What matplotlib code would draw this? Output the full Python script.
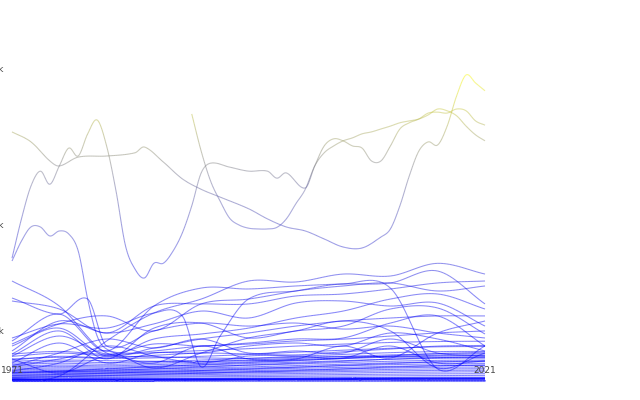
import matplotlib
matplotlib.use("Agg")
import matplotlib.pyplot as plt
from matplotlib.collections import LineCollection
from matplotlib.colors import LinearSegmentedColormap, Normalize
from matplotlib.transforms import blended_transform_factory
import numpy as np

# values in thousands
grid_years = [1971, 1976, 1981, 1986, 1991, 1996, 2001, 2006, 2011, 2016, 2021]

# top olive line
years_a = [1971, 1973, 1975, 1976, 1978, 1981, 1984, 1985, 1987, 1989, 1991, 1993,
           1996, 1998, 2000, 2002, 2004, 2006, 2008, 2010, 2011, 2012, 2013, 2014,
           2015, 2016, 2017, 2018, 2019, 2020, 2021]
vals_a = [255, 235, 199, 190, 206, 208, 214, 225, 197, 168, 151, 139,
          122, 108, 97.5, 92.5, 82.9, 73.8, 72.7, 85.2, 95, 126, 173, 217,
          235, 229, 267, 334, 385, 365, 346]

# line with the 1980 peak
years_b = list(range(1971, 1993)) + [1994, 1996, 1998, 1999, 2000, 2002, 2003, 2004,
                                      2005, 2006, 2007, 2008, 2009, 2010, 2011, 2012,
                                      2013, 2014, 2015, 2016, 2017, 2018, 2019, 2020, 2021]
vals_b = [62, 108, 156, 181, 159, 190, 223, 208, 251, 280, 227, 148, 75, 51.5, 43.6,
          57, 57, 69, 90, 126, 178, 195, 188, 181, 181, 169, 178, 153, 190, 227,
          241, 237, 227, 223, 199, 199, 227, 261, 274, 282, 295, 297, 295, 304, 300,
          278, 269]

# series starting in 1990
years_c = list(range(1990, 2022))
vals_c = [293, 217, 164, 133, 109, 100, 96, 95, 95, 97, 108, 129, 151, 190, 214, 227,
          237, 243, 251, 255, 261, 267, 274, 278, 282, 291, 304, 300, 289, 267, 249, 237]

# blue line with early peak
years_d = [1971, 1972, 1973, 1974, 1975, 1976, 1977, 1978, 1979, 1980, 1981, 1983,
           1986, 1991, 1996, 2001, 2006, 2011, 2016, 2021]
vals_d = [59.2, 80.5, 97.5, 97.5, 86.4, 92.5, 88.8, 69.4, 27.6, 8.3, 4.2, 3.2,
          3.7, 5.0, 5.6, 6.6, 7.2, 8.3, 9.5, 10.3]

# blue line with the 1991 dip
years_e = [1971, 1976, 1981, 1986, 1989, 1991, 1993, 1996, 2001, 2006, 2011, 2016, 2021]
vals_e = [7.6, 13.4, 11.5, 19.0, 17.4, 0.81, 8.32, 27.6, 33.3, 37.1, 39.5, 33.3, 37.1]

years_f = [1971, 1976, 1979, 1981, 1986, 1991, 1996, 2001, 2006, 2011, 2016, 2021]
vals_f = [28.3, 18.4, 27.6, 5.03, 10.3, 13.8, 12.4, 13.8, 11.1, 12.4, 9.47, 7.6]

# mid-range blue lines on grid_years
mid_1 = [41.1, 23.1, 3.22, 4.47, 7.25, 9.47, 12.4, 14.8, 16.3, 17.4, 17.4]
mid_2 = [0.016, 0.10, 6.57, 19.0, 27.6, 41.1, 40.3, 47.0, 45.3, 56.9, 47.0]
mid_3 = [6.57, 18.4, 3.70, 23.1, 35.5, 34.8, 37.1, 38.7, 39.5, 49.7, 24.4]
mid_4 = [5.03, 11.5, 2.57, 7.25, 9.08, 11.5, 16.3, 20.1, 27.6, 31.1, 21.3]
mid_5 = [3.70, 14.8, 9.47, 13.4, 20.1, 16.3, 25.0, 26.3, 23.1, 25.0, 12.4]
mid_6 = [3.00, 10.3, 1.99, 11.5, 13.8, 7.60, 10.3, 12.4, 21.3, 21.9, 9.08]
mid_7 = [2.57, 8.32, 3.00, 5.63, 5.03, 5.93, 7.25, 7.60, 13.8, 17.4, 5.03]
mid_8 = [1.33, 5.93, 1.33, 3.22, 3.22, 5.03, 5.93, 5.03, 9.47, 7.25, 3.70]
mid_9 = [0.92, 3.22, 7.25, 4.47, 7.25, 3.22, 3.70, 3.22, 7.25, 3.22, 2.57]
mid_10 = [0.41, 1.33, 5.03, 2.57, 1.33, 2.57, 2.57, 2.17, 5.03, 1.33, 1.64]
mid_11 = [5.63, 13.4, 17.4, 10.3, 24.4, 27.6, 33.3, 38.7, 35.5, 0.59, 5.03]
mid_12 = [1.99, 0.26, 2.57, 1.33, 5.03, 1.99, 1.99, 5.03, 2.17, 9.47, 14.8]
mid_13 = [0.81, 1.99, 3.70, 0.69, 3.22, 7.60, 10.3, 14.8, 10.3, 0.69, 3.22]
mid_14 = [26.3, 21.3, 9.47, 23.1, 24.4, 24.4, 29.7, 31.1, 34.8, 39.5, 41.1]

# small series crowded near zero
low_1 = [0.02, 0.02, 0.03, 0.03, 0.03, 0.04, 0.04, 0.05, 0.05, 0.06, 0.06]
low_2 = [0.04, 0.05, 0.05, 0.06, 0.07, 0.08, 0.09, 0.10, 0.11, 0.12, 0.13]
low_3 = [0.07, 0.08, 0.09, 0.10, 0.11, 0.13, 0.15, 0.17, 0.19, 0.21, 0.22]
low_4 = [0.10, 0.12, 0.13, 0.15, 0.17, 0.20, 0.23, 0.26, 0.30, 0.33, 0.35]
low_5 = [0.15, 0.17, 0.19, 0.21, 0.24, 0.28, 0.32, 0.37, 0.42, 0.46, 0.48]
low_6 = [0.20, 0.23, 0.25, 0.27, 0.30, 0.34, 0.40, 0.47, 0.55, 0.60, 0.62]
low_7 = [0.26, 0.30, 0.28, 0.33, 0.38, 0.44, 0.52, 0.60, 0.70, 0.78, 0.80]
low_8 = [0.33, 0.38, 0.36, 0.40, 0.46, 0.55, 0.66, 0.76, 0.88, 0.97, 1.00]
low_9 = [0.40, 0.46, 0.42, 0.48, 0.58, 0.68, 0.80, 0.95, 1.10, 1.20, 1.25]
low_10 = [0.50, 0.58, 0.52, 0.60, 0.70, 0.82, 0.98, 1.15, 1.35, 1.48, 1.52]
low_11 = [0.60, 0.72, 0.66, 0.75, 0.88, 1.02, 1.20, 1.40, 1.60, 1.75, 1.80]
low_12 = [0.75, 0.88, 0.80, 0.90, 1.05, 1.25, 1.45, 1.70, 1.95, 2.10, 2.20]
low_13 = [0.90, 1.05, 0.95, 1.10, 1.28, 1.50, 1.75, 2.05, 2.35, 2.55, 2.60]
low_14 = [1.10, 1.30, 1.15, 1.30, 1.55, 1.80, 2.10, 2.45, 2.80, 3.00, 3.10]
low_15 = [1.30, 1.55, 1.40, 1.55, 1.80, 2.10, 2.50, 2.90, 3.30, 3.55, 3.60]
low_16 = [0.05, 0.08, 0.12, 0.18, 0.25, 0.35, 0.45, 0.60, 0.80, 0.95, 1.05]
low_17 = [0.12, 0.18, 0.25, 0.35, 0.45, 0.60, 0.78, 1.00, 1.25, 1.50, 1.65]
low_18 = [0.30, 0.35, 0.45, 0.60, 0.80, 1.05, 1.30, 1.60, 1.95, 2.25, 2.40]
low_19 = [1.60, 1.80, 1.70, 1.60, 1.55, 1.70, 1.90, 2.20, 2.50, 2.70, 2.80]
low_20 = [2.00, 2.30, 2.10, 2.20, 2.50, 2.90, 3.40, 3.90, 4.40, 4.80, 4.90]
low_21 = [0.25, 0.40, 0.60, 0.85, 1.10, 1.40, 1.70, 2.10, 2.60, 3.10, 3.40]
low_22 = [2.50, 3.20, 2.60, 2.40, 2.20, 2.10, 2.30, 2.50, 2.40, 2.30, 2.20]
low_23 = [1.80, 2.50, 2.20, 2.70, 3.20, 3.00, 2.80, 3.50, 4.20, 5.00, 5.20]
low_24 = [3.00, 3.60, 2.90, 3.30, 3.80, 4.30, 5.00, 5.60, 6.10, 6.40, 6.50]

# tiny series along the baseline
tiny_1 = [0.000, 0.000, 0.000, 0.000, 0.000, 0.000, 0.000, 0.000, 0.000, 0.000, 0.000]
tiny_2 = [0.001, 0.001, 0.001, 0.001, 0.001, 0.002, 0.002, 0.002, 0.002, 0.002, 0.002]
tiny_3 = [0.002, 0.002, 0.003, 0.003, 0.003, 0.004, 0.004, 0.005, 0.005, 0.005, 0.005]
tiny_4 = [0.004, 0.004, 0.005, 0.005, 0.006, 0.007, 0.008, 0.009, 0.010, 0.010, 0.011]
tiny_5 = [0.006, 0.007, 0.008, 0.008, 0.009, 0.010, 0.012, 0.013, 0.015, 0.016, 0.017]
tiny_6 = [0.009, 0.010, 0.011, 0.012, 0.013, 0.015, 0.017, 0.019, 0.021, 0.023, 0.024]
tiny_7 = [0.012, 0.013, 0.014, 0.016, 0.018, 0.020, 0.022, 0.025, 0.028, 0.030, 0.031]
tiny_8 = [0.015, 0.017, 0.018, 0.020, 0.022, 0.025, 0.028, 0.032, 0.036, 0.039, 0.040]
tiny_9 = [0.001, 0.002, 0.002, 0.003, 0.004, 0.006, 0.008, 0.010, 0.012, 0.014, 0.015]
tiny_10 = [0.003, 0.005, 0.007, 0.009, 0.012, 0.015, 0.019, 0.023, 0.028, 0.032, 0.034]

y_ticks = [10, 100, 400]
x_labels = [1971, 2021]

series = [(years_a, vals_a), (years_b, vals_b), (years_c, vals_c), (years_d, vals_d),
          (years_e, vals_e), (years_f, vals_f)]
for s in [mid_1, mid_2, mid_3, mid_4, mid_5, mid_6, mid_7, mid_8, mid_9, mid_10,
          mid_11, mid_12, mid_13, mid_14,
          low_1, low_2, low_3, low_4, low_5, low_6, low_7, low_8, low_9, low_10,
          low_11, low_12, low_13, low_14, low_15, low_16, low_17, low_18, low_19,
          low_20, low_21, low_22, low_23, low_24,
          tiny_1, tiny_2, tiny_3, tiny_4, tiny_5, tiny_6, tiny_7, tiny_8, tiny_9, tiny_10]:
    series.append((grid_years, s))


def smooth_curve(xs, vs, n=16):
    # cardinal-style cubic through the points, in sqrt space
    x = np.asarray(xs, float)
    y = np.sqrt(np.asarray(vs, float))
    h = np.diff(x)
    m = np.zeros_like(y)
    m[0] = (y[1] - y[0]) / h[0]
    m[-1] = (y[-1] - y[-2]) / h[-1]
    for i in range(1, len(y) - 1):
        m[i] = (y[i + 1] - y[i - 1]) / (x[i + 1] - x[i - 1])
    px, py = [], []
    for i in range(len(h)):
        t = np.linspace(0, 1, n, endpoint=False)
        h00 = 2 * t**3 - 3 * t**2 + 1
        h10 = t**3 - 2 * t**2 + t
        h01 = -2 * t**3 + 3 * t**2
        h11 = t**3 - t**2
        px.append(x[i] + t * h[i])
        py.append(h00 * y[i] + h10 * h[i] * m[i] + h01 * y[i + 1] + h11 * h[i] * m[i + 1])
    px.append([x[-1]])
    py.append([y[-1]])
    return np.concatenate(px), np.clip(np.concatenate(py), 0, None) ** 2


cmap = LinearSegmentedColormap.from_list("blue_yellow", ["#0000ff", "#ffff00"])
norm = Normalize(0, 390)

fig = plt.figure(figsize=(6.4, 4), dpi=100)
ax = fig.add_axes([12 / 640, 19 / 400, 473 / 640, 320 / 400])
ax.set_yscale("function", functions=(lambda v: np.sqrt(np.clip(v, 0, None)), lambda v: np.square(v)))

for xs, vs in reversed(series):
    sx, sy = smooth_curve(xs, vs)
    pts = np.column_stack([sx, sy]).reshape(-1, 1, 2)
    segs = np.concatenate([pts[:-1], pts[1:]], axis=1)
    mid = (sy[:-1] + sy[1:]) / 2
    lc = LineCollection(segs, colors=cmap(norm(mid)), linewidths=0.75, alpha=0.5,
                        capstyle="butt", clip_on=False)
    ax.add_collection(lc)

ax.set_xlim(1971, 2021)
ax.set_ylim(0, 420.8)
ax.axis("off")

for yr in x_labels:
    ax.text(yr, 0.15, str(yr), ha="center", va="bottom", fontsize=6.5, color="#444444")

trans = blended_transform_factory(ax.transAxes, ax.transData)
for v in y_ticks:
    ax.text(-0.016, v, f"{v}k", transform=trans, ha="right", va="center",
            fontsize=6.5, color="#444444")

fig.savefig("out.png", dpi=100)
